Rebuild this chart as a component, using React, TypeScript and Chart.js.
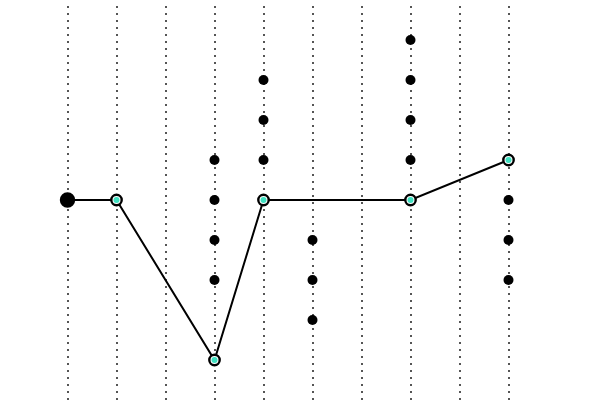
import React, { useRef, useEffect } from 'react'
import Chart from 'chart.js/auto'

// step positions that get a vertical dotted guide
const gridSteps = [0, 1, 2, 3, 4, 5, 6, 7, 8, 9]

// the walked path
const pathX = [0, 1, 3, 4, 7, 9]
const pathY = [0, 0, -4, 0, 0, 1]

// loose black dots
const dotX = [3, 3, 3, 3, 4, 4, 4, 5, 5, 5, 7, 7, 7, 7, 9, 9, 9]
const dotY = [1, 0, -1, -2, 3, 2, 1, -1, -2, -3, 4, 3, 2, 1, 0, -1, -2]

// path points that carry a teal centre (all but the start)
const tealX = pathX.slice(1)
const tealY = pathY.slice(1)

const App = () => {
  const chartRef = useRef<HTMLCanvasElement>(null)

  useEffect(() => {
    if (!chartRef.current) return
    const ctx = chartRef.current.getContext('2d')
    if (!ctx) return

    const chart = new Chart(ctx, {
      type: 'scatter',
      data: {
        datasets: [
          {
            data: tealX.map((x, i) => ({ x, y: tealY[i] })),
            pointRadius: 3,
            pointBackgroundColor: '#3ee0c0',
            pointBorderWidth: 0,
            order: 0,
          },
          {
            type: 'line',
            data: pathX.map((x, i) => ({ x, y: pathY[i] })),
            borderColor: '#000',
            borderWidth: 2,
            fill: false,
            pointRadius: pathX.map((_, i) => (i === 0 ? 6.5 : 5.2)),
            pointBackgroundColor: pathX.map((_, i) => (i === 0 ? '#000' : '#fff')),
            pointBorderColor: '#000',
            pointBorderWidth: 2.4,
            order: 1,
          },
          {
            data: dotX.map((x, i) => ({ x, y: dotY[i] })),
            pointRadius: 5,
            pointBackgroundColor: '#000',
            pointBorderWidth: 0,
            order: 2,
          },
        ],
      },
      options: {
        animation: false,
        responsive: true,
        maintainAspectRatio: false,
        layout: { autoPadding: false, padding: { top: 6, left: 0, right: 0, bottom: 0 } },
        plugins: {
          legend: { display: false },
          tooltip: { enabled: false },
        },
        scales: {
          x: {
            type: 'linear',
            min: -67.5 / 49,
            max: -67.5 / 49 + 600 / 49,
            afterBuildTicks: (scale) => {
              scale.ticks = gridSteps.map((v) => ({ value: v }))
            },
            ticks: { display: false },
            grid: {
              color: '#555',
              lineWidth: 2,
              drawTicks: false,
            },
            border: { display: false, dash: [2, 5] },
          },
          y: {
            display: false,
            min: -5,
            max: 4.85,
          },
        },
      },
    })

    return () => {
      chart.destroy()
    }
  }, [])

  return (
    <div style={{ position: 'fixed', left: 0, top: 0, width: 600, height: 400, background: '#fff' }}>
      <canvas ref={chartRef}></canvas>
    </div>
  )
}

export default App
